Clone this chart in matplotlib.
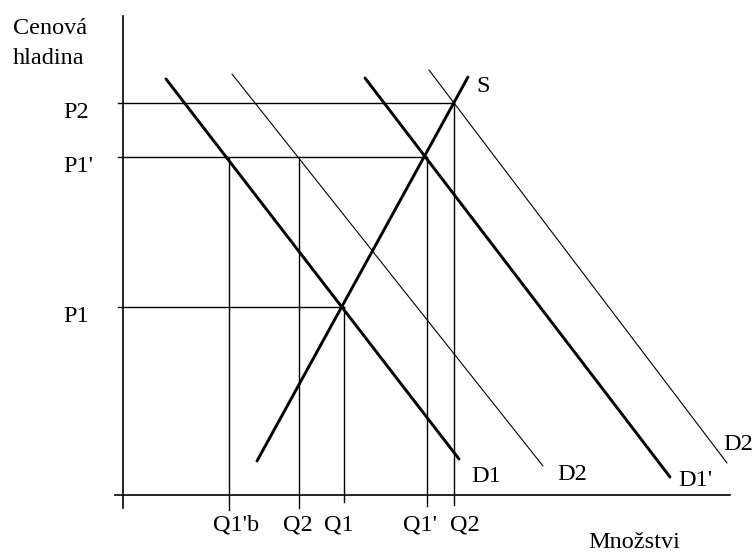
"""Supply/demand shift diagram (Cenová hladina vs Množstvi)."""

import matplotlib
matplotlib.use("Agg")
import matplotlib.pyplot as plt

# --- data: quantity / price coordinates, origin at the axes corner ---
price_names = ["P2", "P1'", "P1"]
price_levels = [392, 338, 188]
price_guide_end = [331, 304, 221]        # quantity where each price line stops

qty_names = ["Q1'b", "Q2", "Q1", "Q1'", "Q2"]
qty_levels = [106, 176, 221, 304, 331]
qty_guide_top = [338, 338, 188, 338, 392]  # price where each quantity line stops
qty_guide_bottom = [-15, -13, -7, -11, -10]

curve_names = ["S", "D1", "D2", "D1'", "D2"]
curve_q = [(134, 345), (43, 336), (109, 420), (242, 547), (306, 604)]
curve_p = [(34, 418), (416, 36), (421, 29), (417, 18), (425, 32)]
curve_thick = [True, True, False, True, False]
curve_label_q = [360, 363, 449, 572, 615]
curve_label_p = [408, 18, 21, 15, 50]

FONT = "Liberation Serif"
FS = 17.5


def main() -> None:
    fig = plt.figure(figsize=(7.53, 5.54), dpi=100)
    ax = fig.add_axes([0, 0, 1, 1])
    ax.set_xlim(-123, 630)
    ax.set_ylim(-59, 495)
    ax.axis("off")

    # axes
    ax.plot([0, 0], [-13, 479], color="black", lw=1.2)
    ax.plot([-8, 607], [0, 0], color="black", lw=1.2)

    # guide lines
    for p, q_end in zip(price_levels, price_guide_end):
        ax.plot([-5, q_end], [p, p], color="black", lw=1.0)
    for q, p_top, p_bot in zip(qty_levels, qty_guide_top, qty_guide_bottom):
        ax.plot([q, q], [p_bot, p_top], color="black", lw=1.0)

    # supply and demand curves
    for name, qs, ps, thick in zip(curve_names, curve_q, curve_p, curve_thick):
        ax.plot(qs, ps, color="black", lw=2.1 if thick else 0.8,
                solid_capstyle="round")
    for name, lq, lp in zip(curve_names, curve_label_q, curve_label_p):
        ax.text(lq, lp, name, ha="center", va="center", family=FONT, fontsize=FS)

    # tick labels
    for name, p in zip(price_names, price_levels):
        ax.text(-60, p - 10, name, ha="left", va="center", family=FONT, fontsize=FS)
    q_label_pos = [113, 175, 216, 297, 342]
    for name, q in zip(qty_names, q_label_pos):
        ax.text(q, -30, name, ha="center", va="center", family=FONT, fontsize=FS)

    # axis titles
    ax.text(-110, 467, "Cenová", ha="left", va="center", family=FONT, fontsize=FS)
    ax.text(-110, 437, "hladina", ha="left", va="center", family=FONT, fontsize=FS)
    ax.text(511, -48, "Množstvi", ha="center", va="center", family=FONT, fontsize=FS)

    fig.savefig("out.png", dpi=100)
    plt.close(fig)


if __name__ == "__main__":
    main()
